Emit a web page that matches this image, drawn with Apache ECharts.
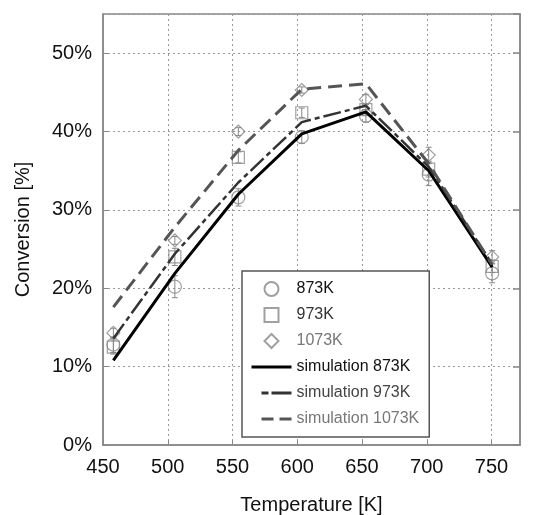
<!DOCTYPE html>
<html>
<head>
<meta charset="utf-8">
<script src="https://cdn.jsdelivr.net/npm/echarts@6/dist/echarts.min.js"></script>
<style>
html, body { margin: 0; padding: 0; background: #fff; }
#chart { width: 537px; height: 515px; }
</style>
</head>
<body>
<div id="chart"></div>
<script>
// temperatures [K] at which conversion was measured / simulated
var temps = [458, 505.5, 554.5, 603.5, 653, 701.5, 750.5];

// measured conversion [%]
var exp873 = [12.8, 20.2, 31.6, 39.3, 42.0, 34.5, 21.9];
var exp973 = [12.5, 24.0, 36.7, 42.4, 42.8, 35.2, 22.8];
var exp1073 = [14.3, 26.1, 40.0, 45.3, 44.1, 37.0, 24.0];

// half width of the error bars [%]
var err873 = [1.0, 1.4, 1.1, 0.8, 0.8, 1.4, 1.2];
var err973 = [0.9, 1.1, 0.7, 0.6, 0.7, 1.0, 0.8];
var err1073 = [0.6, 0.5, 0.5, 0.4, 0.6, 1.0, 0.8];

// simulated conversion [%]
var sim873 = [10.8, 21.9, 32.0, 39.7, 42.5, 35.0, 22.7];
var sim973 = [13.6, 24.4, 33.5, 41.2, 43.3, 35.5, 23.1];
var sim1073 = [17.6, 27.8, 37.6, 45.4, 46.1, 35.9, 23.0];

var font = 'Liberation Sans, Arial, sans-serif';
var markColor = '#888';

function pairs(vals) {
  return temps.map(function (t, i) { return [t, vals[i]]; });
}

function errorBars(name, vals, errs) {
  return {
    name: name,
    type: 'custom',
    silent: true,
    z: 3,
    data: temps.map(function (t, i) { return [t, vals[i] - errs[i], vals[i] + errs[i]]; }),
    encode: { x: 0, y: [1, 2] },
    renderItem: function (params, api) {
      var lo = api.coord([api.value(0), api.value(1)]);
      var hi = api.coord([api.value(0), api.value(2)]);
      var w = 3;
      var st = { stroke: markColor, lineWidth: 1 };
      return {
        type: 'group',
        children: [
          { type: 'line', shape: { x1: lo[0], y1: lo[1], x2: hi[0], y2: hi[1] }, style: st },
          { type: 'line', shape: { x1: lo[0] - w, y1: lo[1], x2: lo[0] + w, y2: lo[1] }, style: st },
          { type: 'line', shape: { x1: hi[0] - w, y1: hi[1], x2: hi[0] + w, y2: hi[1] }, style: st }
        ]
      };
    }
  };
}

function points(name, vals, symbol, size) {
  return {
    name: name,
    type: 'scatter',
    symbol: symbol,
    symbolSize: size,
    z: 4,
    data: pairs(vals),
    itemStyle: { color: 'rgba(255,255,255,0)', borderColor: markColor, borderWidth: 1.2 }
  };
}

function simLine(name, vals, color, width, dash) {
  return {
    name: name,
    type: 'line',
    symbol: 'none',
    z: 5,
    data: pairs(vals),
    lineStyle: { color: color, width: width, type: dash },
    itemStyle: { color: color }
  };
}

var chart = echarts.init(document.getElementById('chart'), null, { renderer: 'canvas' });

var noDot = { opacity: 0 };

var option = {
  backgroundColor: '#fff',
  animation: false,
  grid: {
    left: 103, right: 17, top: 14, bottom: 70,
    show: true, borderColor: '#888', borderWidth: 1.5,
    outerBoundsMode: 'none'
  },
  legend: {
    orient: 'vertical',
    left: 242, top: 271,
    itemWidth: 40, itemHeight: 14, itemGap: 10,
    padding: [10, 10, 10, 8],
    backgroundColor: '#fff',
    borderColor: '#555', borderWidth: 1.5, borderRadius: 0,
    textStyle: { fontFamily: font, fontSize: 16, color: '#111' },
    data: [
      { name: '873K', icon: 'circle', textStyle: { color: '#111' } },
      { name: '973K', icon: 'path://M0,0L10,0L10,10L0,10Z', textStyle: { color: '#333' } },
      { name: '1073K', icon: 'path://M5,0L10,5L5,10L0,5Z', textStyle: { color: '#777' } },
      { name: 'simulation 873K', itemStyle: noDot, lineStyle: { width: 3, color: '#000', type: 'solid' }, textStyle: { color: '#111' } },
      { name: 'simulation 973K', itemStyle: noDot, lineStyle: { width: 3, color: '#333', type: [0.01, 10, 7, 3, 20, 100] }, textStyle: { color: '#444' } },
      { name: 'simulation 1073K', itemStyle: noDot, lineStyle: { width: 3, color: '#555', type: [0.01, 10, 12, 6, 12, 100] }, textStyle: { color: '#777' } }
    ]
  },
  xAxis: {
    type: 'value',
    min: 450, max: 772, interval: 50,
    name: 'Temperature [K]',
    nameLocation: 'middle', nameGap: 50,
    nameTextStyle: { fontFamily: font, fontSize: 20, color: '#111' },
    axisLine: { show: true, lineStyle: { color: '#888', width: 1.5 } },
    axisTick: { show: true, inside: true, length: 5, lineStyle: { color: '#888' } },
    axisLabel: { fontFamily: font, fontSize: 20, color: '#111', margin: 12, showMaxLabel: false },
    splitLine: { show: true, lineStyle: { color: '#999', width: 1, type: [2, 3] } }
  },
  yAxis: [{
    type: 'value',
    min: 0, max: 55, interval: 10,
    name: 'Conversion [%]',
    nameLocation: 'middle', nameGap: 70, nameRotate: 90,
    nameTextStyle: { fontFamily: font, fontSize: 20, color: '#111' },
    axisLine: { show: true, lineStyle: { color: '#888', width: 1.5 } },
    axisTick: { show: true, inside: true, length: 5, lineStyle: { color: '#888' } },
    axisLabel: { fontFamily: font, fontSize: 20, color: '#111', margin: 11, showMaxLabel: false, formatter: '{value}%' },
    splitLine: { show: true, lineStyle: { color: '#999', width: 1, type: [2, 3] } }
  }, {
    type: 'value',
    position: 'right',
    min: 0, max: 55, interval: 10,
    axisLine: { show: true, lineStyle: { color: '#888', width: 1.5 } },
    axisTick: { show: true, inside: true, length: 7, lineStyle: { color: '#888', width: 1.5 } },
    axisLabel: { show: false },
    splitLine: { show: false }
  }],
  series: [
    errorBars('err873', exp873, err873),
    errorBars('err973', exp973, err973),
    errorBars('err1073', exp1073, err1073),
    points('873K', exp873, 'circle', 13),
    points('973K', exp973, 'rect', 12),
    points('1073K', exp1073, 'diamond', 13),
    simLine('simulation 873K', sim873, '#000', 3, 'solid'),
    simLine('simulation 973K', sim973, '#333', 2.5, [18, 4, 5, 4]),
    simLine('simulation 1073K', sim1073, '#555', 3, [14, 7])
  ]
};

chart.setOption(option);
</script>
</body>
</html>
